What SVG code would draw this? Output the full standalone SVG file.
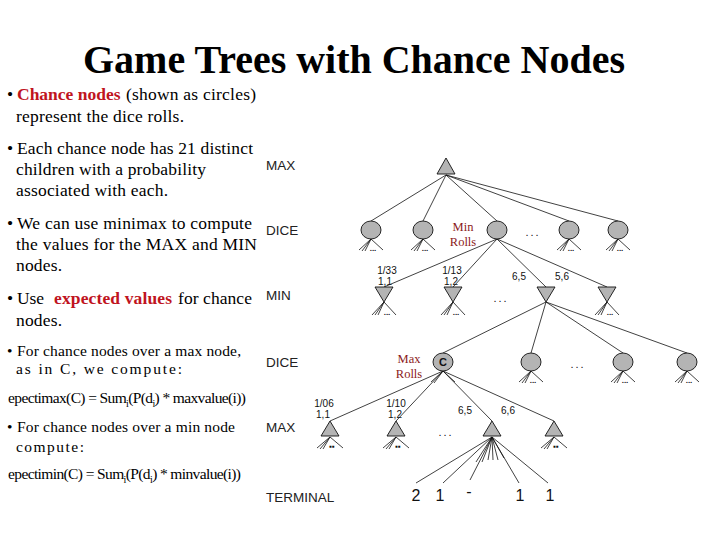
<svg xmlns="http://www.w3.org/2000/svg" width="720" height="540" viewBox="0 0 720 540">
<style>
.title{font-family:"Liberation Serif","Times New Roman",serif;font-weight:bold;font-size:40px;fill:#000}
.body{font-family:"Liberation Serif","Times New Roman",serif;font-size:17.5px;fill:#000}
.red{fill:#c0141e;font-weight:bold}
.small{font-family:"Liberation Serif","Times New Roman",serif;font-size:15.5px;fill:#000}
.sub{font-size:10px}
.lvl{font-family:"Liberation Sans",Arial,sans-serif;font-size:13.5px;fill:#222}
.lab{font-family:"Liberation Sans",Arial,sans-serif;font-size:10px;fill:#111;text-anchor:middle}
.term{font-family:"Liberation Sans",Arial,sans-serif;font-size:16px;fill:#111;text-anchor:middle}
.rolls{font-family:"Liberation Serif","Times New Roman",serif;font-size:12.5px;fill:#8b1a1a;text-anchor:middle}
.dots{font-family:"Liberation Sans",Arial,sans-serif;font-size:11px;fill:#111;text-anchor:middle;letter-spacing:2px}
.sdots{font-family:"Liberation Sans",Arial,sans-serif;font-size:8px;font-weight:bold;fill:#111;text-anchor:middle}
.node{fill:#b4b4b4;stroke:#111;stroke-width:0.9}
.edge{stroke:#111;stroke-width:0.8;fill:none}
</style>
<rect width="720" height="540" fill="#fff"/>

<text class="title" x="83" y="73" textLength="542" lengthAdjust="spacingAndGlyphs">Game Trees with Chance Nodes</text>

<g id="bullets">
<text class="body" x="7" y="100">•</text>
<text class="body" x="17" y="100"><tspan class="red">Chance nodes</tspan></text>
<text class="body" x="126" y="100" textLength="130">(shown as circles)</text>
<text class="body" x="16" y="122" textLength="168">represent the dice rolls.</text>

<text class="body" x="7" y="154">•</text>
<text class="body" x="17" y="154" textLength="236">Each chance node has 21 distinct</text>
<text class="body" x="16" y="175" textLength="190">children with a probability</text>
<text class="body" x="16" y="196" textLength="152">associated with each.</text>

<text class="body" x="7" y="229">•</text>
<text class="body" x="17" y="229" textLength="235">We can use minimax to compute</text>
<text class="body" x="16" y="250" textLength="241">the values for the MAX and MIN</text>
<text class="body" x="16" y="271" textLength="46">nodes.</text>

<text class="body" x="7" y="304">•</text>
<text class="body" x="17" y="304" textLength="27">Use</text>
<text class="body red" x="54" y="304" textLength="118">expected values</text>
<text class="body" x="178" y="304" textLength="74">for chance</text>
<text class="body" x="16" y="326" textLength="46">nodes.</text>

<text class="small" x="7" y="356">•</text>
<text class="small" x="17" y="356" textLength="224">For chance nodes over a max node,</text>
<text class="small" x="16" y="374" textLength="166">as in C, we compute:</text>

<text class="small" x="8" y="403" textLength="238">epectimax(C) = Sum<tspan class="sub" dy="4">i</tspan><tspan dy="-4">(P(d</tspan><tspan class="sub" dy="4">i</tspan><tspan dy="-4">) * maxvalue(i))</tspan></text>

<text class="small" x="7" y="432">•</text>
<text class="small" x="17" y="432" textLength="218">For chance nodes over a min node</text>
<text class="small" x="16" y="452" textLength="68">compute:</text>

<text class="small" x="8" y="479" textLength="233">epectimin(C) = Sum<tspan class="sub" dy="4">i</tspan><tspan dy="-4">(P(d</tspan><tspan class="sub" dy="4">i</tspan><tspan dy="-4">) * minvalue(i))</tspan></text>
</g>

<g id="levels">
<text class="lvl" x="266" y="170">MAX</text>
<text class="lvl" x="266" y="235">DICE</text>
<text class="lvl" x="266" y="300">MIN</text>
<text class="lvl" x="266" y="367">DICE</text>
<text class="lvl" x="266" y="432">MAX</text>
<text class="lvl" x="266" y="502">TERMINAL</text>
</g>

<g id="connectors">
<line class="edge" x1="446" y1="175" x2="371" y2="221"/>
<line class="edge" x1="446" y1="175" x2="423" y2="221"/>
<line class="edge" x1="446" y1="175" x2="497" y2="221"/>
<line class="edge" x1="446" y1="175" x2="569" y2="221"/>
<line class="edge" x1="446" y1="175" x2="618" y2="221"/>
<line class="edge" x1="497" y1="239" x2="384" y2="287"/>
<line class="edge" x1="497" y1="239" x2="453" y2="287"/>
<line class="edge" x1="497" y1="239" x2="546" y2="287"/>
<line class="edge" x1="497" y1="239" x2="607" y2="287"/>
<line class="edge" x1="546" y1="302" x2="443" y2="353"/>
<line class="edge" x1="546" y1="302" x2="531" y2="353"/>
<line class="edge" x1="546" y1="302" x2="623" y2="353"/>
<line class="edge" x1="546" y1="302" x2="687" y2="353"/>
<line class="edge" x1="443" y1="371" x2="330" y2="421"/>
<line class="edge" x1="443" y1="371" x2="396" y2="421"/>
<line class="edge" x1="443" y1="371" x2="492" y2="421"/>
<line class="edge" x1="443" y1="371" x2="554" y2="421"/>
<line class="edge" x1="492" y1="437" x2="416" y2="483"/>
<line class="edge" x1="492" y1="437" x2="443" y2="483"/>
<line class="edge" x1="492" y1="437" x2="470" y2="480"/>
<line class="edge" x1="492" y1="437" x2="519" y2="483"/>
<line class="edge" x1="492" y1="437" x2="548" y2="483"/>
<line class="edge" x1="492" y1="437" x2="476" y2="462"/>
<line class="edge" x1="492" y1="437" x2="482" y2="462"/>
<line class="edge" x1="492" y1="437" x2="488" y2="460"/>
<line class="edge" x1="492" y1="437" x2="493" y2="460"/>
<line class="edge" x1="492" y1="437" x2="498" y2="460"/>
<line class="edge" x1="492" y1="437" x2="504" y2="458"/>
<g id="stubs">
<path class="edge" d="M371 239 L359 250 M371 239 L362 251 M371 239 L365 251 M371 239 L383 250"/>
<path class="edge" d="M423 239 L411 250 M423 239 L414 251 M423 239 L417 251 M423 239 L435 250"/>
<path class="edge" d="M569 239 L557 250 M569 239 L560 251 M569 239 L563 251 M569 239 L581 250"/>
<path class="edge" d="M618 239 L606 250 M618 239 L609 251 M618 239 L612 251 M618 239 L630 250"/>
<path class="edge" d="M384 302 L372 315 M384 302 L375 315 M384 302 L378 315 M384 302 L396 315"/>
<path class="edge" d="M453 302 L441 315 M453 302 L444 315 M453 302 L447 315 M453 302 L465 315"/>
<path class="edge" d="M607 302 L595 315 M607 302 L598 315 M607 302 L601 315 M607 302 L619 315"/>
<path class="edge" d="M531 371 L519 382 M531 371 L522 383 M531 371 L525 383 M531 371 L543 382"/>
<path class="edge" d="M623 371 L611 382 M623 371 L614 383 M623 371 L617 383 M623 371 L635 382"/>
<path class="edge" d="M687 371 L675 382 M687 371 L678 383 M687 371 L681 383 M687 371 L699 382"/>
<path class="edge" d="M443 371 L431 382 M443 371 L434 383 M443 371 L455 382"/>
<path class="edge" d="M330 437 L317 448 M330 437 L320 449 M330 437 L323 449 M330 437 L343 448"/>
<path class="edge" d="M396 437 L383 448 M396 437 L386 449 M396 437 L389 449 M396 437 L409 448"/>
<path class="edge" d="M554 437 L541 448 M554 437 L544 449 M554 437 L547 449 M554 437 L567 448"/>
</g>
</g>

<g id="stub-dots">
<text class="sdots" x="373" y="251">...</text>
<text class="sdots" x="425" y="251">...</text>
<text class="sdots" x="571" y="251">...</text>
<text class="sdots" x="620" y="251">...</text>
<text class="sdots" x="387" y="315">...</text>
<text class="sdots" x="456" y="315">...</text>
<text class="sdots" x="610" y="315">...</text>
<text class="sdots" x="533" y="383">...</text>
<text class="sdots" x="625" y="383">...</text>
<text class="sdots" x="689" y="383">...</text>
<text class="sdots" x="332" y="449">▪▪</text>
<text class="sdots" x="398" y="449">▪▪</text>
<text class="sdots" x="556" y="449">▪▪</text>
</g>

<g id="n-root"><polygon class="node" points="446,158 437,174 455,174"/></g>
<g id="n-d1"><ellipse class="node" cx="371" cy="230" rx="10" ry="9"/></g>
<g id="n-d2"><ellipse class="node" cx="423" cy="230" rx="10" ry="9"/></g>
<g id="n-d3"><ellipse class="node" cx="497" cy="230" rx="10" ry="9"/></g>
<g id="n-d4"><ellipse class="node" cx="569" cy="230" rx="10" ry="9"/></g>
<g id="n-d5"><ellipse class="node" cx="618" cy="230" rx="10" ry="9"/></g>
<g id="n-m1"><polygon class="node" points="375,287 393,287 384,302"/></g>
<g id="n-m2"><polygon class="node" points="444,287 462,287 453,302"/></g>
<g id="n-m3"><polygon class="node" points="537,287 555,287 546,302"/></g>
<g id="n-m4"><polygon class="node" points="598,287 616,287 607,302"/></g>
<g id="n-c"><ellipse class="node" cx="443" cy="362" rx="10" ry="9"/><text x="443" y="366" font-family="Liberation Sans,Arial,sans-serif" font-size="11" font-weight="bold" text-anchor="middle" fill="#111">C</text></g>
<g id="n-e2"><ellipse class="node" cx="531" cy="362" rx="10" ry="9"/></g>
<g id="n-e3"><ellipse class="node" cx="623" cy="362" rx="10" ry="9"/></g>
<g id="n-e4"><ellipse class="node" cx="687" cy="362" rx="10" ry="9"/></g>
<g id="n-x1"><polygon class="node" points="330,421 321,436 339,436"/></g>
<g id="n-x2"><polygon class="node" points="396,421 387,436 405,436"/></g>
<g id="n-x3"><polygon class="node" points="492,421 483,436 501,436"/></g>
<g id="n-x4"><polygon class="node" points="554,421 545,436 563,436"/></g>

<g id="tree-labels">
<text class="lab" x="387" y="274">1/33</text>
<text class="lab" x="385" y="285">1,1</text>
<text class="lab" x="452" y="274">1/13</text>
<text class="lab" x="451" y="285">1,2</text>
<text class="lab" x="519" y="280">6,5</text>
<text class="lab" x="562" y="280">5,6</text>
<text class="lab" x="324" y="407">1/06</text>
<text class="lab" x="323" y="418">1,1</text>
<text class="lab" x="396" y="407">1/10</text>
<text class="lab" x="395" y="418">1,2</text>
<text class="lab" x="465" y="414">6,5</text>
<text class="lab" x="508" y="414">6,6</text>
<text class="dots" x="533" y="236">...</text>
<text class="dots" x="501" y="302">...</text>
<text class="dots" x="578" y="368">...</text>
<text class="dots" x="446" y="436">...</text>
<text class="rolls" x="463" y="231">Min</text>
<text class="rolls" x="463" y="246">Rolls</text>
<text class="rolls" x="409" y="363">Max</text>
<text class="rolls" x="409" y="378">Rolls</text>
</g>

<g id="terminals">
<text class="term" x="416" y="501">2</text>
<text class="term" x="440" y="501">1</text>
<text class="term" x="469" y="497">-</text>
<text class="term" x="520" y="501">1</text>
<text class="term" x="550" y="501">1</text>
</g>
</svg>
